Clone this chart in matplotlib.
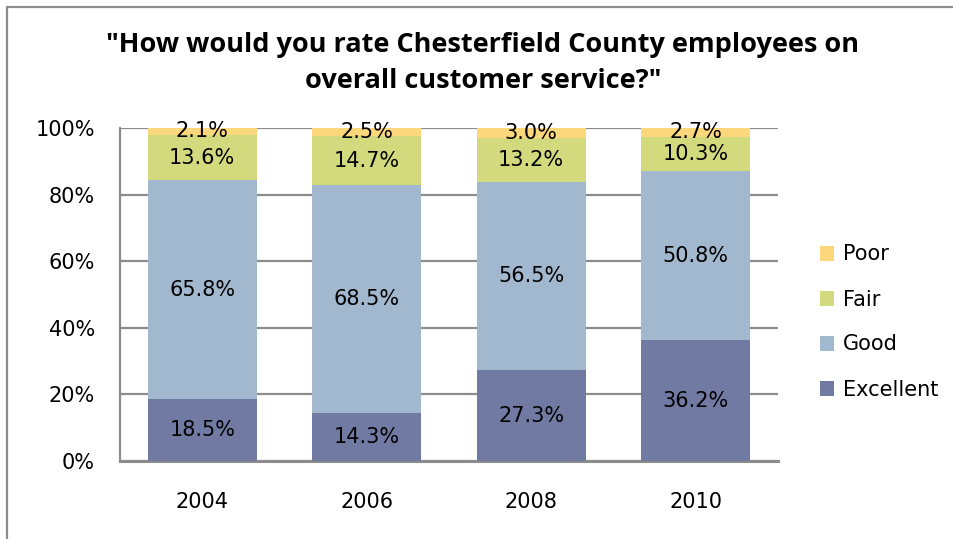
import matplotlib
matplotlib.use("Agg")
import matplotlib.pyplot as plt
from matplotlib.patches import Rectangle
import numpy as np

years = ["2004", "2006", "2008", "2010"]
excellent = [18.5, 14.3, 27.3, 36.2]
good = [65.8, 68.5, 56.5, 50.8]
fair = [13.6, 14.7, 13.2, 10.3]
poor = [2.1, 2.5, 3.0, 2.7]
series_names = ["Excellent", "Good", "Fair", "Poor"]
series_values = [excellent, good, fair, poor]
colors = ["#707AA3", "#A1B8CF", "#D3DA7D", "#FCD77B"]
yticks = [0, 20, 40, 60, 80, 100]
title = "\"How would you rate Chesterfield County employees on\noverall customer service?\""

W, H = 954, 539
fig = plt.figure(figsize=(W / 100, H / 100), dpi=100)
fig.patch.set_facecolor("white")

ax = fig.add_axes([120 / W, 1 - 461 / H, (778 - 120) / W, (461 - 128) / H])

x = np.arange(len(years))
bottom = np.zeros(len(years))
handles = []
for name, vals, c in zip(series_names, series_values, colors):
    vals = np.array(vals)
    b = ax.bar(x, vals, 0.66, bottom=bottom, color=c, label=name, zorder=3)
    handles.append(b)
    for xi, v, bt in zip(x, vals, bottom):
        ax.text(xi, bt + v / 2, f"{v:.1f}%", ha="center", va="center",
                fontsize=15, color="black", zorder=4, family="DejaVu Sans")
    bottom += vals

ax.set_xlim(-0.5, len(years) - 0.5)
ax.set_ylim(0, 100)
ax.set_yticks(yticks)
ax.set_yticklabels([f"{t}%" for t in yticks], fontsize=15, family="DejaVu Sans")
ax.set_xticks(x)
ax.set_xticklabels(years, fontsize=15, family="DejaVu Sans")
ax.tick_params(axis="both", length=0)
ax.tick_params(axis="y", pad=18)
ax.tick_params(axis="x", pad=22)
ax.yaxis.grid(True, color="#8C8C8C", linewidth=1.6, zorder=0)
ax.set_axisbelow(True)
for s in ["top", "right"]:
    ax.spines[s].set_visible(False)
ax.spines["left"].set_color("#8C8C8C")
ax.spines["left"].set_linewidth(1.6)
ax.spines["bottom"].set_color("#8C8C8C")
ax.spines["bottom"].set_linewidth(2.2)

leg = fig.legend(handles[::-1], series_names[::-1], loc="center left",
                 bbox_to_anchor=(801 / W, 1 - 322 / H), frameon=False,
                 handlelength=0.7, handleheight=0.7,
                 handletextpad=0.4, labelspacing=1.2,
                 prop={"family": "DejaVu Sans", "size": 15})

fig.text(483 / W, 1 - 63 / H, title, ha="center", va="center",
         fontsize=19.5, fontweight="bold", family="Open Sans", linespacing=1.5)

fig.add_artist(Rectangle((7 / W, -0.1), 1.2, 1 - 7 / H + 0.1,
                         transform=fig.transFigure, fill=False,
                         edgecolor="#8C8C8C", linewidth=1.6))

fig.savefig("out.png", dpi=100)
